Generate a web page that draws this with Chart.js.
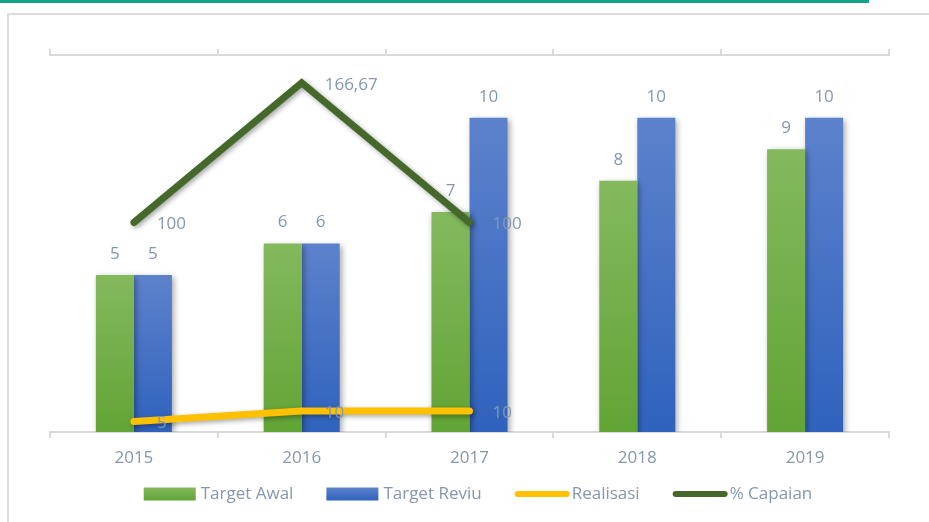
<!DOCTYPE html>
<html>
<head>
<meta charset="utf-8">
<script src="https://cdn.jsdelivr.net/npm/chart.js@4"></script>
<style>
  html, body { margin: 0; padding: 0; background: #ffffff; }
  #wrap { position: relative; width: 929px; height: 522px; overflow: hidden; }
  #teal { position: absolute; left: 0; top: 0; width: 869px; height: 3px; background: #12a38d; }
  #frame { position: absolute; left: 7px; top: 13px; width: 960px; height: 560px;
           border-left: 2px solid #dcdcdc; border-top: 2px solid #dcdcdc; }
  canvas { position: absolute; left: 0; top: 0; }
</style>
</head>
<body>
<div id="wrap">
  <div id="teal"></div>
  <div id="frame"></div>
  <canvas id="c" width="929" height="522"></canvas>
</div>
<script>
const categories = ['2015', '2016', '2017', '2018', '2019'];
const targetAwal = [5, 6, 7, 8, 9];
const targetReviu = [5, 6, 10, 10, 10];
const realisasi = [5, 10, 10, null, null];
const capaian = [100, 166.67, 100, null, null];
const seriesNames = ['Target Awal', 'Target Reviu', 'Realisasi', '% Capaian'];

const FONT = "'Open Sans', 'Noto Sans', sans-serif";
const LABEL_COLOR = '#8497b0';
const GREEN_TOP = '#84b95e', GREEN_BOT = '#62a435';
const BLUE_TOP = '#5d82cc', BLUE_BOT = '#2f62bd';
const YELLOW = '#ffc000', DKGREEN = '#44692b';

function barGrad(top, bottom) {
  return (c) => {
    const chart = c.chart;
    if (!chart.chartArea || c.type !== 'data' || !chart.scales.y) return bottom;
    const y0 = chart.scales.y.getPixelForValue(0);
    const y1 = chart.scales.y.getPixelForValue(c.raw);
    if (!isFinite(y0) || !isFinite(y1) || y0 === y1) return bottom;
    const g = chart.ctx.createLinearGradient(0, y1, 0, y0);
    g.addColorStop(0, top);
    g.addColorStop(1, bottom);
    return g;
  };
}

function fmt(v) { return String(v).replace('.', ','); }

const shadowPlugin = {
  id: 'shadow',
  beforeDatasetDraw(chart, args) {
    const ctx = chart.ctx;
    ctx.save();
    const type = chart.data.datasets[args.index].type;
    ctx.shadowColor = 'rgba(0,0,0,0.35)';
    ctx.shadowBlur = type === 'line' ? 5 : 6;
    ctx.shadowOffsetX = 2;
    ctx.shadowOffsetY = 2;
  },
  afterDatasetDraw(chart) { chart.ctx.restore(); }
};

const labelPlugin = {
  id: 'labels',
  afterDatasetsDraw(chart) {
    const ctx = chart.ctx;
    ctx.save();
    ctx.font = '17px ' + FONT;
    ctx.fillStyle = LABEL_COLOR;
    ctx.textBaseline = 'middle';
    chart.data.datasets.forEach((ds, di) => {
      const meta = chart.getDatasetMeta(di);
      meta.data.forEach((el, i) => {
        const v = ds.data[i];
        if (v === null || v === undefined) return;
        if (ds.type === 'bar') {
          ctx.textAlign = 'center';
          ctx.fillText(fmt(v), el.x, el.y - 21);
        } else {
          ctx.textAlign = 'left';
          ctx.fillText(fmt(v), el.x + 23, el.y + 2);
        }
      });
    });
    ctx.restore();
  }
};

const legendPlugin = {
  id: 'customLegend',
  afterDraw(chart) {
    const ctx = chart.ctx;
    ctx.save();
    ctx.font = '17px ' + FONT;
    ctx.textBaseline = 'middle';
    ctx.textAlign = 'left';
    const markW = 54, gapT = 5, gapItem = 31;
    const items = chart.data.datasets.map((ds) => ({ ds, w: markW + gapT + ctx.measureText(ds.label).width }));
    const total = items.reduce((s, it) => s + it.w, 0) + gapItem * (items.length - 1);
    let x = 479 - total / 2;
    const cy = 494;
    items.forEach((it) => {
      const ds = it.ds;
      if (ds.type === 'bar') {
        const g = ctx.createLinearGradient(0, cy - 6.5, 0, cy + 6.5);
        g.addColorStop(0, ds.legendTop);
        g.addColorStop(1, ds.legendBot);
        ctx.fillStyle = g;
        ctx.fillRect(x, cy - 6.5, markW - 2, 13);
      } else {
        ctx.strokeStyle = ds.borderColor;
        ctx.lineWidth = 6;
        ctx.lineCap = 'round';
        ctx.beginPath();
        ctx.moveTo(x + 3, cy);
        ctx.lineTo(x + markW - 2, cy);
        ctx.stroke();
      }
      ctx.fillStyle = LABEL_COLOR;
      ctx.fillText(ds.label, x + markW + gapT - 2, cy);
      x += it.w + gapItem;
    });
    ctx.restore();
  }
};

new Chart(document.getElementById('c'), {
  data: {
    labels: categories,
    datasets: [
      { type: 'bar', label: seriesNames[0], data: targetAwal, yAxisID: 'y', xAxisID: 'x',
        backgroundColor: barGrad(GREEN_TOP, GREEN_BOT), legendTop: GREEN_TOP, legendBot: GREEN_BOT,
        borderWidth: 0, categoryPercentage: 0.453, barPercentage: 1, order: 2 },
      { type: 'bar', label: seriesNames[1], data: targetReviu, yAxisID: 'y', xAxisID: 'x',
        backgroundColor: barGrad(BLUE_TOP, BLUE_BOT), legendTop: BLUE_TOP, legendBot: BLUE_BOT,
        borderWidth: 0, categoryPercentage: 0.453, barPercentage: 1, order: 3 },
      { type: 'line', label: seriesNames[2], data: realisasi, yAxisID: 'y2', xAxisID: 'x',
        borderColor: YELLOW, backgroundColor: YELLOW, borderWidth: 7, pointRadius: 0,
        borderCapStyle: 'round', borderJoinStyle: 'round', order: 1, spanGaps: false, tension: 0 },
      { type: 'line', label: seriesNames[3], data: capaian, yAxisID: 'y2', xAxisID: 'x',
        borderColor: DKGREEN, backgroundColor: DKGREEN, borderWidth: 7, pointRadius: 0,
        borderCapStyle: 'round', borderJoinStyle: 'miter', order: 0, spanGaps: false, tension: 0 }
    ]
  },
  options: {
    responsive: false,
    animation: false,
    devicePixelRatio: 1,
    layout: { padding: { left: 50, right: 40, top: 0, bottom: 46 } },
    plugins: { legend: { display: false }, tooltip: { enabled: false } },
    scales: {
      x: {
        type: 'category', position: 'bottom', offset: true,
        grid: { offset: true, drawOnChartArea: false, tickLength: 6, color: '#d9d9d9', lineWidth: 2 },
        border: { display: true, color: '#d9d9d9', width: 2 },
        ticks: { color: LABEL_COLOR, font: { family: FONT, size: 17 }, padding: 10, maxRotation: 0 },
        afterFit(s) { s.height = 44; }
      },
      x2: {
        type: 'category', position: 'top', offset: true, labels: categories,
        grid: { offset: true, drawOnChartArea: false, tickLength: 6, color: '#d9d9d9', lineWidth: 2 },
        border: { display: true, color: '#d9d9d9', width: 2 },
        ticks: { display: false },
        afterFit(s) { s.height = 55; }
      },
      y: { display: false, min: 0, max: 12 },
      y2: { display: false, min: 0, max: 180 }
    }
  },
  plugins: [shadowPlugin, labelPlugin, legendPlugin]
});
</script>
</body>
</html>
